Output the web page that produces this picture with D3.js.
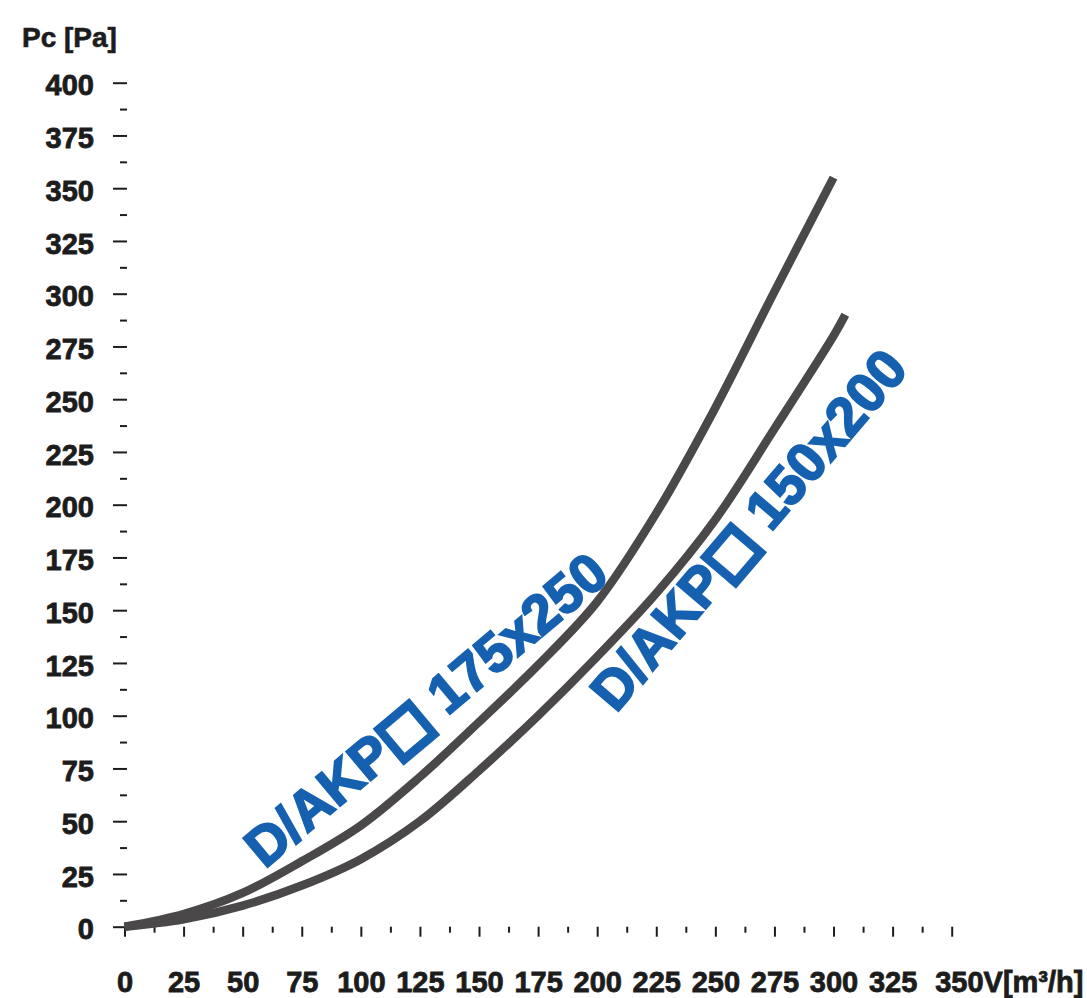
<!DOCTYPE html>
<html>
<head>
<meta charset="utf-8">
<script src="https://cdn.jsdelivr.net/npm/d3@7"></script>
<style>
  html, body { margin: 0; padding: 0; background: #ffffff; }
  svg { display: block; }
  text { font-family: "Liberation Sans", Arial, Helvetica, sans-serif; font-weight: bold; }
</style>
</head>
<body>
<svg id="chart" width="1087" height="998"></svg>
<script>
// ---- data ----
const flowTicks = [0, 25, 50, 75, 100, 125, 150, 175, 200, 225, 250, 275, 300, 325, 350];
const pressureTicks = [0, 25, 50, 75, 100, 125, 150, 175, 200, 225, 250, 275, 300, 325, 350, 375, 400];
const flowMinorTicks = [12.5, 37.5, 62.5, 87.5, 112.5, 137.5, 162.5, 187.5, 212.5, 237.5, 262.5, 287.5, 312.5, 337.5];
const pressureMinorTicks = [12.5, 37.5, 62.5, 87.5, 112.5, 137.5, 162.5, 187.5, 212.5, 237.5, 262.5, 287.5, 312.5, 337.5, 362.5, 387.5];

const seriesNames = ["D/AKP\u25A1 175x250", "D/AKP\u25A1 150x200"];
const flow175x250 = [0, 25, 50, 75, 100, 125, 150, 175, 200, 225, 250, 275, 300];
const pressure175x250 = [0, 6, 16, 31, 48, 71, 97, 124, 154, 196, 246, 301, 355];
const flow150x200 = [0, 25, 50, 75, 100, 125, 150, 175, 200, 225, 250, 275, 300, 305];
const pressure150x200 = [0, 3.5, 10, 19.5, 32, 50, 74, 100, 128, 158, 193, 236, 280, 290];

const yTitle = "Pc [Pa]";
const xUnit = "V[m\u00B3/h]";

// ---- layout ----
const svg = d3.select("#chart");
const x = d3.scaleLinear().domain([0, 350]).range([124.5, 951.7]);
const y = d3.scaleLinear().domain([0, 400]).range([926.7, 82.7]);
const ink = "#1c1c1c";
const curveColor = "#4a4848";
const labelBlue = "#1660b0";

// y axis (ticks only, no domain line)
const yAxisG = svg.append("g").attr("transform", "translate(127,0)");
yAxisG.call(d3.axisLeft(y).tickValues(pressureTicks).tickSize(14).tickPadding(19).tickFormat(d3.format("d")));
yAxisG.append("g").call(d3.axisLeft(y).tickValues(pressureMinorTicks).tickSize(7).tickFormat(""));
yAxisG.selectAll(".domain").remove();
yAxisG.selectAll("line").attr("stroke", ink).attr("stroke-width", 2);
yAxisG.selectAll("text")
  .attr("fill", ink).attr("stroke", ink).attr("stroke-width", 0.8)
  .style("font-size", "29px").attr("dy", "0.42em");

// x axis (ticks only, no domain line)
const xAxisG = svg.append("g").attr("transform", "translate(0,926.7)");
xAxisG.call(d3.axisBottom(x).tickValues(flowTicks).tickSize(10).tickPadding(35).tickFormat(d3.format("d")));
xAxisG.append("g").call(d3.axisBottom(x).tickValues(flowMinorTicks).tickSize(6).tickFormat(""));
xAxisG.selectAll(".domain").remove();
xAxisG.selectAll("line").attr("stroke", ink).attr("stroke-width", 2);
xAxisG.selectAll("text")
  .attr("fill", ink).attr("stroke", ink).attr("stroke-width", 0.8)
  .style("font-size", "29px");
// last tick label carries the unit
xAxisG.selectAll(".tick text").filter(d => d === 350)
  .attr("text-anchor", "start").attr("x", -17)
  .text(d => d + xUnit);

// y title
svg.append("text")
  .attr("x", 22).attr("y", 47)
  .attr("fill", ink).attr("stroke", ink).attr("stroke-width", 0.6)
  .style("font-size", "28px")
  .text(yTitle);

// curves
const line = d3.line().x(d => x(d[0])).y(d => y(d[1])).curve(d3.curveCatmullRom);
const series = [
  d3.zip(flow175x250, pressure175x250),
  d3.zip(flow150x200, pressure150x200)
];
svg.append("g").selectAll("path").data(series).join("path")
  .attr("d", line)
  .attr("fill", "none")
  .attr("stroke", curveColor)
  .attr("stroke-width", 8.5)
  .attr("stroke-linecap", "butt");

// curve labels
const labelPos = [
  { cx: 438, cy: 724, angle: -40 },
  { cx: 763, cy: 542, angle: -49.5 }
];
const labels = svg.append("g").selectAll("text").data(seriesNames).join("text")
  .attr("transform", (d, i) => `translate(${labelPos[i].cx},${labelPos[i].cy}) rotate(${labelPos[i].angle})`)
  .attr("text-anchor", "middle")
  .attr("fill", labelBlue).attr("stroke", labelBlue).attr("stroke-width", 2)
  .style("font-size", "55px");
labels.each(function(d) {
  const parts = d.split("\u25A1");
  const t = d3.select(this);
  t.append("tspan").text(parts[0]);
  t.append("tspan").style("font-family", "'DejaVu Sans'").style("stroke-width", "6px").text("\u25A1");
  t.append("tspan").text(parts[1]);
});
</script>
</body>
</html>
